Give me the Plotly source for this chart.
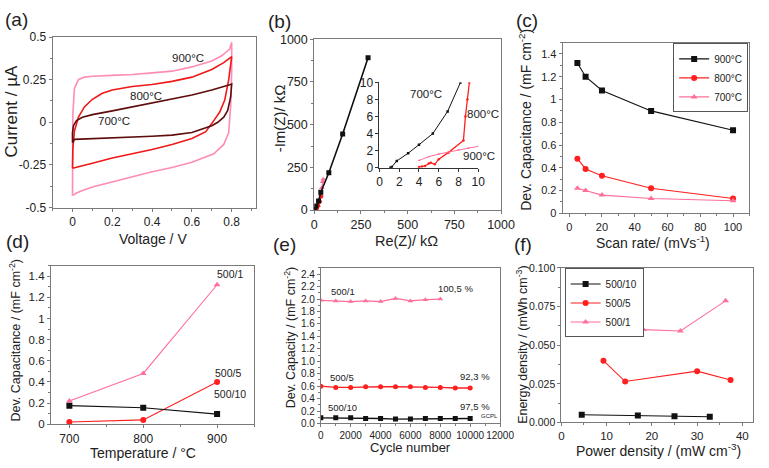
import plotly.graph_objects as go

W, H = 769, 468

# ---------------- (a) cyclic voltammetry ----------------
cv900_v = [0.0, 0.0, 0.002, 0.01, 0.03, 0.06, 0.1, 0.2, 0.3, 0.4, 0.5, 0.6, 0.7, 0.75, 0.79, 0.8,
           0.8, 0.795, 0.785, 0.76, 0.71, 0.6, 0.5, 0.4, 0.3, 0.2, 0.1, 0.05, 0.02, 0.0]
cv900_i = [-0.43, -0.2, 0.05, 0.2, 0.25, 0.265, 0.27, 0.275, 0.28, 0.29, 0.3, 0.325, 0.36, 0.39, 0.43, 0.47,
           0.3, 0.1, -0.06, -0.13, -0.185, -0.235, -0.265, -0.29, -0.32, -0.35, -0.38, -0.40, -0.415, -0.43]

cv800_v = [0.0, 0.002, 0.01, 0.03, 0.06, 0.1, 0.15, 0.2, 0.3, 0.4, 0.5, 0.6, 0.7, 0.76, 0.8,
           0.8, 0.795, 0.785, 0.765, 0.74, 0.71, 0.67, 0.6, 0.5, 0.4, 0.3, 0.2, 0.1, 0.0]
cv800_i = [-0.27, -0.15, -0.05, 0.03, 0.09, 0.135, 0.17, 0.19, 0.21, 0.222, 0.24, 0.265, 0.31, 0.35, 0.385,
           0.385, 0.33, 0.25, 0.13, 0.06, 0.01, -0.055, -0.095, -0.13, -0.16, -0.185, -0.21, -0.24, -0.27]

cv700_v = [0.0, 0.0, 0.005, 0.02, 0.05, 0.1, 0.2, 0.3, 0.4, 0.5, 0.6, 0.7, 0.75, 0.79, 0.8,
           0.8, 0.795, 0.78, 0.76, 0.73, 0.7, 0.6, 0.5, 0.4, 0.3, 0.2, 0.1, 0.05, 0.01, 0.0]
cv700_i = [-0.12, -0.06, -0.02, 0.01, 0.03, 0.045, 0.067, 0.09, 0.11, 0.135, 0.16, 0.19, 0.205, 0.22, 0.225,
           0.225, 0.15, 0.07, 0.03, 0.0, -0.02, -0.06, -0.075, -0.082, -0.087, -0.092, -0.095, -0.098, -0.1, -0.12]

# ---------------- (b) Nyquist ----------------
nyq700_re = [2, 9, 23, 35, 78, 152, 288]
nyq700_im = [5, 24, 53, 104, 218, 445, 892]
nyq800_re = [4, 6, 10, 15, 22, 30, 38]
nyq800_im = [0, 2, 5, 12, 25, 50, 80]
nyq900_re = [5, 12, 20, 28, 35, 40, 45, 48]
nyq900_im = [3, 10, 25, 50, 90, 130, 165, 180]

ins700_re = [1.1, 1.25, 1.75, 2.9, 4.0, 5.4, 6.9, 8.2]
ins700_im = [0.0, 0.1, 0.8, 1.7, 2.7, 4.0, 6.6, 10.0]
ins800_re = [4.0, 4.3, 4.6, 5.0, 5.2, 5.6, 6.0, 7.0, 8.5, 8.7, 8.9, 9.1]
ins800_im = [0.1, 0.15, 0.2, 0.5, 0.6, 0.4, 1.0, 1.8, 3.2, 6.0, 8.0, 10.0]
ins900_re = [4.0, 5.0, 6.0, 7.0, 8.0, 9.0, 10.0]
ins900_im = [0.85, 1.3, 1.6, 1.85, 2.1, 2.3, 2.5]

# ---------------- (c) capacitance vs scan rate ----------------
scan_rate = [5, 10, 20, 50, 100]
cap900 = [1.32, 1.20, 1.08, 0.90, 0.73]
cap800 = [0.48, 0.39, 0.33, 0.22, 0.13]
cap700 = [0.22, 0.20, 0.16, 0.13, 0.11]

# ---------------- (d) capacitance vs temperature ----------------
temps = [700, 800, 900]
d_500_1 = [0.22, 0.48, 1.32]
d_500_5 = [0.02, 0.04, 0.40]
d_500_10 = [0.175, 0.155, 0.095]

# ---------------- (e) cycling ----------------
cycles = [0, 1000, 2000, 3000, 4000, 5000, 6000, 7000, 8000, 9000, 10000]
e_500_1 = [1.98, 1.97, 1.96, 1.97, 1.96, 2.01, 1.97, 1.99, 2.00]
e_500_5 = [0.60, 0.58, 0.58, 0.59, 0.59, 0.59, 0.59, 0.58, 0.58, 0.57, 0.57]
e_500_10 = [0.09, 0.09, 0.09, 0.08, 0.08, 0.07, 0.07, 0.08, 0.08, 0.08, 0.08]

# ---------------- (f) Ragone ----------------
f10_p = [4.5, 16.9, 25.0, 32.8]
f10_e = [0.0050, 0.0045, 0.0041, 0.0037]
f5_p = [9.3, 14.1, 30.0, 37.4]
f5_e = [0.040, 0.0265, 0.0332, 0.0275]
f1_p = [8.7, 18.1, 26.3, 36.3]
f1_e = [0.0588, 0.0601, 0.0592, 0.0787]

BLACK = "#111111"
RED = "#ff1f1f"
PINK = "#ff6f99"
FONT = "Liberation Sans, Arial, sans-serif"


def px_x(p):
    return p / W


def px_y(p):
    return 1 - p / H


fig = go.Figure()

# (a)
fig.add_trace(go.Scatter(x=cv900_v, y=cv900_i, mode="lines", line=dict(color="#ff8cb4", width=1.6),
                         xaxis="x", yaxis="y", showlegend=False))
fig.add_trace(go.Scatter(x=cv800_v, y=cv800_i, mode="lines", line=dict(color="#f01818", width=1.6),
                         xaxis="x", yaxis="y", showlegend=False))
fig.add_trace(go.Scatter(x=cv700_v, y=cv700_i, mode="lines", line=dict(color="#5e0c0c", width=1.6),
                         xaxis="x", yaxis="y", showlegend=False))

# (b)
fig.add_trace(go.Scatter(x=nyq900_re, y=nyq900_im, mode="lines+markers", line=dict(color=PINK, width=1.2),
                         marker=dict(symbol="triangle-up", size=5, color=PINK),
                         xaxis="x2", yaxis="y2", showlegend=False))
fig.add_trace(go.Scatter(x=nyq800_re, y=nyq800_im, mode="lines+markers", line=dict(color=RED, width=1.2),
                         marker=dict(symbol="circle", size=4, color=RED),
                         xaxis="x2", yaxis="y2", showlegend=False))
fig.add_trace(go.Scatter(x=nyq700_re, y=nyq700_im, mode="lines+markers", line=dict(color=BLACK, width=1.6),
                         marker=dict(symbol="square", size=5, color=BLACK),
                         xaxis="x2", yaxis="y2", showlegend=False))
# inset
fig.add_trace(go.Scatter(x=ins700_re, y=ins700_im, mode="lines+markers", line=dict(color=BLACK, width=1),
                         marker=dict(symbol="square", size=2.5, color=BLACK),
                         xaxis="x7", yaxis="y7", showlegend=False))
fig.add_trace(go.Scatter(x=ins800_re, y=ins800_im, mode="lines+markers", line=dict(color=RED, width=1.3),
                         marker=dict(symbol="circle", size=2.5, color=RED),
                         xaxis="x7", yaxis="y7", showlegend=False))
fig.add_trace(go.Scatter(x=ins900_re, y=ins900_im, mode="lines+markers", line=dict(color=PINK, width=1),
                         marker=dict(symbol="triangle-up", size=2.5, color=PINK),
                         xaxis="x7", yaxis="y7", showlegend=False))

# (c)
fig.add_trace(go.Scatter(x=scan_rate, y=cap900, name="900°C", mode="lines+markers",
                         line=dict(color=BLACK, width=1.1), marker=dict(symbol="square", size=6, color=BLACK),
                         xaxis="x3", yaxis="y3", legend="legend"))
fig.add_trace(go.Scatter(x=scan_rate, y=cap800, name="800°C", mode="lines+markers",
                         line=dict(color=RED, width=1.1), marker=dict(symbol="circle", size=6, color=RED),
                         xaxis="x3", yaxis="y3", legend="legend"))
fig.add_trace(go.Scatter(x=scan_rate, y=cap700, name="700°C", mode="lines+markers",
                         line=dict(color=PINK, width=1.1), marker=dict(symbol="triangle-up", size=6, color=PINK),
                         xaxis="x3", yaxis="y3", legend="legend"))

# (d)
fig.add_trace(go.Scatter(x=temps, y=d_500_1, mode="lines+markers", line=dict(color=PINK, width=1.1),
                         marker=dict(symbol="triangle-up", size=6, color=PINK),
                         xaxis="x4", yaxis="y4", showlegend=False))
fig.add_trace(go.Scatter(x=temps, y=d_500_5, mode="lines+markers", line=dict(color=RED, width=1.1),
                         marker=dict(symbol="circle", size=6, color=RED),
                         xaxis="x4", yaxis="y4", showlegend=False))
fig.add_trace(go.Scatter(x=temps, y=d_500_10, mode="lines+markers", line=dict(color=BLACK, width=1.1),
                         marker=dict(symbol="square", size=6, color=BLACK),
                         xaxis="x4", yaxis="y4", showlegend=False))

# (e)
fig.add_trace(go.Scatter(x=cycles[:len(e_500_1)], y=e_500_1, mode="lines+markers", line=dict(color=PINK, width=1.3),
                         marker=dict(symbol="triangle-up", size=5, color=PINK),
                         xaxis="x5", yaxis="y5", showlegend=False))
fig.add_trace(go.Scatter(x=cycles, y=e_500_5, mode="lines+markers", line=dict(color=RED, width=1.3),
                         marker=dict(symbol="circle", size=5, color=RED),
                         xaxis="x5", yaxis="y5", showlegend=False))
fig.add_trace(go.Scatter(x=cycles, y=e_500_10, mode="lines+markers", line=dict(color=BLACK, width=1.3),
                         marker=dict(symbol="square", size=5, color=BLACK),
                         xaxis="x5", yaxis="y5", showlegend=False))

# (f)
fig.add_trace(go.Scatter(x=f10_p, y=f10_e, name="500/10", mode="lines+markers",
                         line=dict(color=BLACK, width=1.1), marker=dict(symbol="square", size=6, color=BLACK),
                         xaxis="x6", yaxis="y6", legend="legend2"))
fig.add_trace(go.Scatter(x=f5_p, y=f5_e, name="500/5", mode="lines+markers",
                         line=dict(color=RED, width=1.1), marker=dict(symbol="circle", size=6, color=RED),
                         xaxis="x6", yaxis="y6", legend="legend2"))
fig.add_trace(go.Scatter(x=f1_p, y=f1_e, name="500/1", mode="lines+markers",
                         line=dict(color=PINK, width=1.1), marker=dict(symbol="triangle-up", size=6, color=PINK),
                         xaxis="x6", yaxis="y6", legend="legend2"))

AXCOL = "#7a7a7a"


def ax(domain, rng, anchor, dtick=None, minor_dtick=None, tsize=12, **kw):
    d = dict(domain=domain, range=rng, anchor=anchor, showline=True, mirror=True, linecolor=AXCOL,
             linewidth=1, ticks="outside", ticklen=3, tickwidth=1, tickcolor=AXCOL, tickangle=0,
             showgrid=False, zeroline=False, tickfont=dict(size=tsize, color="#222", family=FONT))
    if dtick is not None:
        d["dtick"] = dtick
        d["tick0"] = 0
    if minor_dtick is not None:
        d["minor"] = dict(dtick=minor_dtick, ticks="outside", ticklen=2, tickcolor=AXCOL, showgrid=False)
    d.update(kw)
    return d


def inset_ax(domain, anchor):
    return dict(domain=domain, range=[0, 10], anchor=anchor, showline=True, mirror=False,
                linecolor="#333", linewidth=1, ticks="outside", ticklen=3, tickcolor="#333", dtick=2,
                tickangle=0, showgrid=False, zeroline=False, tickfont=dict(size=12, color="#222", family=FONT))


LEG = dict(yanchor="top", bgcolor="white", bordercolor="#555", borderwidth=1,
           font=dict(size=10, color="#222", family=FONT), itemwidth=30, tracegroupgap=0,
           traceorder="normal")

layout = dict(
    width=W, height=H, margin=dict(l=0, r=0, t=0, b=0),
    paper_bgcolor="white", plot_bgcolor="white",
    font=dict(family=FONT, size=12, color="#222"),
    # (a)
    xaxis=ax([px_x(50.7), px_x(258.3)], [-0.1, 0.92], "y", 0.2, 0.1, 12),
    yaxis=ax([px_y(206.7), px_y(31)], [-0.5, 0.5], "x", None, 0.125, 12,
             tickvals=[-0.5, -0.25, 0, 0.25, 0.5], ticktext=["-0.5", "-0.25", "0", "0.25", "0.5"]),
    # (b)
    xaxis2=ax([px_x(318.3), px_x(509.3)], [0, 1000], "y2", 250, 125, 12.5),
    yaxis2=ax([px_y(209.3), px_y(33.3)], [0, 1000], "x2", 250, 125, 12.5),
    # (c)
    xaxis3=ax([px_x(572.3), px_x(763.3)], [-4, 110], "y3", 20, 10, 11),
    yaxis3=ax([px_y(212.7), px_y(36.7)], [0, 1.5], "x3", 0.2, 0.1, 11),
    # (d)
    xaxis4=ax([px_x(49), px_x(256.7)], [675, 950], "y4", 100, 50, 12, tick0=700),
    yaxis4=ax([px_y(430), px_y(266.7)], [0, 1.5], "x4", 0.2, 0.1, 11.5),
    # (e)
    xaxis5=ax([px_x(325), px_x(508.3)], [0, 12000], "y5", 2000, 1000, 10, tickformat="d"),
    yaxis5=ax([px_y(429.3), px_y(269)], [0, 2.5], "x5", 0.2, 0.1, 10, tickformat=".1f"),
    # (f)
    xaxis6=ax([px_x(571), px_x(766.7)], [0, 42.3], "y6", 10, 5, 11.5),
    yaxis6=ax([px_y(428.3), px_y(269)], [0, 0.1], "x6", 0.025, 0.0125, 10.5, tickformat=".3f"),
    # inset of (b)
    xaxis7=inset_ax([px_x(385), px_x(486)], "y7"),
    yaxis7=inset_ax([px_y(165.7), px_y(77.7)], "x7"),
    legend=dict(LEG, x=px_x(762), xanchor="right", y=px_y(37.5)),
    legend2=dict(LEG, x=px_x(574.3), xanchor="left", y=px_y(269.5)),
)
fig.update_layout(**layout)

annots = []


def txt(text, x, y, size=12, angle=0, xanchor="center"):
    annots.append(dict(text=text, x=px_x(x), y=px_y(y), xref="paper", yref="paper", showarrow=False,
                       xanchor=xanchor, yanchor="middle", textangle=angle,
                       font=dict(size=size, color="#222", family=FONT)))


# panel letters
for lab, x, y in [("(a)", 14, 13), ("(b)", 283, 15), ("(c)", 536, 14),
                  ("(d)", 15, 242), ("(e)", 288, 245), ("(f)", 532, 245)]:
    txt(lab, x, y, size=19)

# axis titles
txt("Voltage / V", 153, 239, 14)
txt("Current / µA", 9, 107, 17, -90)
txt("Re(Z)/ kΩ", 413, 241, 14.5)
txt("-Im(Z)/ kΩ", 283, 115, 15, -90)
txt("Scan rate/ (mVs<sup>-1</sup>)", 665, 242, 14)
txt("Dev. Capacitance / (mF cm<sup>-2</sup>)", 533, 116, 14, -90)
txt("Temperature / °C", 143, 460, 14)
txt("Dev. Capacitance / (mF cm<sup>-2</sup>)", 12, 344, 12.5, -90)
txt("Cycle number", 417, 454, 13)
txt("Dev. Capacity / (mF cm<sup>-2</sup>)", 293, 341, 12.5, -90)
txt("Power density / (mW cm<sup>-3</sup>)", 670, 457, 14)
txt("Energy density / (mWh cm<sup>-3</sup>)", 530, 348, 12.5, -90)

# in-plot labels
txt("900°C", 189, 53, 11.5)
txt("800°C", 146, 92, 11.5)
txt("700°C", 114, 118, 11.5)
txt("700°C", 433, 90, 11.5)
txt("800°C", 491, 110, 11.5)
txt("900°C", 487, 154, 11.5)
txt("500/1", 232, 275, 10.5)
txt("500/5", 230, 377, 10.5)
txt("500/10", 232, 399, 10.5)
txt("500/1", 348, 293, 9.5)
txt("100,5 %", 463, 290, 9.5)
txt("500/5", 347, 382, 9.5)
txt("92,3 %", 483, 381, 9.5)
txt("500/10", 347, 413, 9.5)
txt("97,5 %", 483, 412, 9.5)
txt("GCPL", 497, 422, 6)

fig.update_layout(annotations=annots)
fig.write_html("out.html")
